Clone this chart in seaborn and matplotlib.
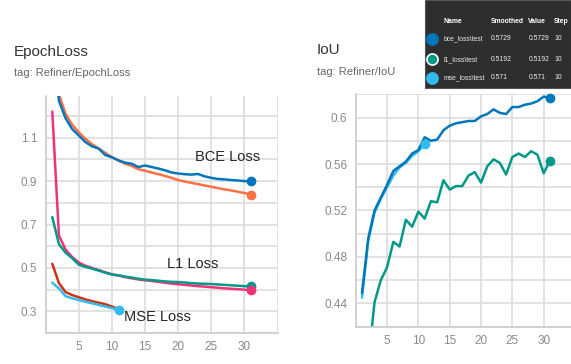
import matplotlib
matplotlib.use("Agg")
import matplotlib.pyplot as plt
import seaborn as sns
import pandas as pd
from matplotlib.patches import Rectangle

# data
epochs = list(range(1, 32))
mse_epochs = list(range(1, 12))

bce_train = [1.65, 1.30, 1.21, 1.16, 1.125, 1.095, 1.07, 1.05, 1.03, 1.01, 0.995,
             0.98, 0.97, 0.955, 0.948, 0.94, 0.932, 0.924, 0.915, 0.905, 0.898,
             0.892, 0.886, 0.88, 0.874, 0.868, 0.862, 0.857, 0.851, 0.845, 0.838]
bce_test = [1.60, 1.27, 1.19, 1.14, 1.11, 1.08, 1.06, 1.05, 1.02, 1.01, 0.995,
            0.985, 0.98, 0.965, 0.972, 0.965, 0.958, 0.95, 0.94, 0.935, 0.932,
            0.93, 0.933, 0.922, 0.915, 0.91, 0.908, 0.905, 0.903, 0.9, 0.9]
l1_train = [1.22, 0.65, 0.585, 0.55, 0.525, 0.51, 0.50, 0.49, 0.48, 0.47, 0.465,
            0.458, 0.452, 0.447, 0.443, 0.44, 0.436, 0.432, 0.428, 0.425, 0.422,
            0.419, 0.416, 0.414, 0.411, 0.409, 0.406, 0.404, 0.402, 0.4, 0.397]
l1_test = [0.734, 0.61, 0.57, 0.545, 0.515, 0.505, 0.497, 0.488, 0.478, 0.47, 0.466,
           0.46, 0.456, 0.45, 0.446, 0.444, 0.441, 0.438, 0.436, 0.435, 0.433,
           0.43, 0.428, 0.427, 0.426, 0.424, 0.422, 0.42, 0.418, 0.416, 0.415]
mse_train = [0.519, 0.43, 0.389, 0.375, 0.365, 0.355, 0.347, 0.34, 0.333, 0.322, 0.311]
mse_test = [0.432, 0.405, 0.37, 0.36, 0.352, 0.344, 0.337, 0.33, 0.322, 0.315, 0.308]

iou_bce = [0.449, 0.496, 0.520, 0.531, 0.542, 0.554, 0.558, 0.562, 0.569, 0.572, 0.583,
           0.580, 0.581, 0.589, 0.593, 0.595, 0.596, 0.597, 0.597, 0.601, 0.603,
           0.607, 0.604, 0.603, 0.609, 0.609, 0.611, 0.612, 0.614, 0.618, 0.617]
iou_l1 = [0.34, 0.39, 0.441, 0.460, 0.471, 0.493, 0.489, 0.512, 0.506, 0.519, 0.513,
          0.528, 0.527, 0.546, 0.538, 0.541, 0.541, 0.550, 0.553, 0.544, 0.558,
          0.564, 0.561, 0.551, 0.566, 0.569, 0.566, 0.571, 0.568, 0.552, 0.563]
iou_mse = [0.445, 0.494, 0.518, 0.530, 0.540, 0.550, 0.557, 0.561, 0.567, 0.571, 0.577]

legend_rows = [("bce_loss\\test", "0.5729", "0.5729", "10"),
               ("l1_loss\\test", "0.5192", "0.5192", "10"),
               ("mse_loss\\test", "0.571", "0.571", "10")]

BLUE, ORANGE, PINK, TEAL, RED, CYAN = "#0077bb", "#ff7043", "#ee3377", "#009988", "#cc3311", "#33bbee"

sns.set_style("white")
plt.rcParams["font.family"] = ["Liberation Sans", "DejaVu Sans"]


def long_df(series):
    rows = []
    for name, xs, ys in series:
        for x, y in zip(xs, ys):
            rows.append({"run": name, "step": x, "value": y})
    return pd.DataFrame(rows)


loss_df = long_df([("bce_train", epochs, bce_train), ("bce_test", epochs, bce_test),
                   ("l1_train", epochs, l1_train), ("l1_test", epochs, l1_test),
                   ("mse_train", mse_epochs, mse_train), ("mse_test", mse_epochs, mse_test)])
loss_pal = {"bce_train": ORANGE, "bce_test": BLUE, "l1_train": PINK,
            "l1_test": TEAL, "mse_train": RED, "mse_test": CYAN}

iou_df = long_df([("mse", mse_epochs, iou_mse), ("bce", epochs, iou_bce), ("l1", epochs, iou_l1)])
iou_pal = {"bce": BLUE, "l1": TEAL, "mse": CYAN}

fig = plt.figure(figsize=(5.71, 3.64), dpi=100)
ax1 = fig.add_axes([0.080, 0.085, 0.406, 0.650])
ax2 = fig.add_axes([0.623, 0.1025, 0.384, 0.6385])


def style_axes(ax, ylim, major, minor):
    ax.set_xlim(0, 35)
    ax.set_ylim(*ylim)
    ax.set_xticks(range(0, 36, 5))
    ax.set_xticklabels([""] + [str(v) for v in range(5, 31, 5)] + [""])
    ax.set_yticks(major)
    ax.set_yticks(minor, minor=True)
    ax.grid(True, which="both", color="#dddddd", lw=1.2)
    ax.set_axisbelow(True)
    ax.tick_params(which="both", direction="out", length=3, color="#cccccc",
                   labelcolor="#8a8a8a", labelsize=8.5, pad=3)
    for s in ["top", "right"]:
        ax.spines[s].set_visible(False)
    for s in ["left", "bottom"]:
        ax.spines[s].set_color("#cccccc")
        ax.spines[s].set_linewidth(1.2)
    ax.set_xlabel("")
    ax.set_ylabel("")


sns.lineplot(data=loss_df, x="step", y="value", hue="run", palette=loss_pal,
             lw=1.8, legend=False, ax=ax1)
for name, grp in loss_df.groupby("run"):
    if name == "mse_train":
        continue  # hidden under the mse test dot in the screenshot
    last = grp.iloc[-1]
    ax1.plot(last["step"], last["value"], "o", color=loss_pal[name], ms=6, clip_on=False)
style_axes(ax1, (0.2, 1.29), [0.3, 0.5, 0.7, 0.9, 1.1], [0.2, 0.4, 0.6, 0.8, 1.0, 1.2])
ax1.set_yticklabels(["0.3", "0.5", "0.7", "0.9", "1.1"])
ax1.text(27.5, 1.011, "BCE Loss", fontsize=10.5, ha="center", va="center")
ax1.text(22.2, 0.519, "L1 Loss", fontsize=10.5, ha="center", va="center")
ax1.text(16.9, 0.276, "MSE Loss", fontsize=10.5, ha="center", va="center")

sns.lineplot(data=iou_df, x="step", y="value", hue="run", palette=iou_pal,
             lw=1.8, legend=False, ax=ax2)
for name, grp in iou_df.groupby("run"):
    last = grp.iloc[-1]
    ax2.plot(last["step"], last["value"], "o", color=iou_pal[name], ms=6, clip_on=False)
style_axes(ax2, (0.42, 0.62), [0.44, 0.48, 0.52, 0.56, 0.6], [0.42, 0.46, 0.5, 0.54, 0.58, 0.62])
ax2.set_yticklabels(["0.44", "0.48", "0.52", "0.56", "0.6"])

# panel titles
fig.text(0.0245, 0.857, "EpochLoss", fontsize=11, color="#333333", va="center")
fig.text(0.0245, 0.800, "tag: Refiner/EpochLoss", fontsize=8, color="#666666", va="center")
fig.text(0.5546, 0.863, "IoU", fontsize=11, color="#333333", va="center")
fig.text(0.5546, 0.802, "tag: Refiner/IoU", fontsize=8, color="#666666", va="center")

# tooltip box
fig.patches.append(Rectangle((425 / 571, 1 - 87.5 / 364), 146 / 571, 87.5 / 364,
                             transform=fig.transFigure, facecolor="#2e2e2e",
                             edgecolor="#555555", lw=0.8, zorder=5))
cols = [444, 490.7, 528.3, 554.3]
for x, h in zip(cols, ["Name", "Smoothed", "Value", "Step"]):
    fig.text(x / 571, 1 - 21.7 / 364, h, fontsize=4.9, color="white",
             fontweight="bold", va="center", zorder=6)
row_y = [39, 59.3, 77.7]
for (name, sm, val, step), y, c in zip(legend_rows, row_y, [BLUE, TEAL, CYAN]):
    ring = "white" if c == TEAL else c
    fig.lines.append(plt.Line2D([431.7 / 571], [1 - y / 364], marker="o", ms=8,
                                color=c, mec=ring, mew=1.2, transform=fig.transFigure,
                                zorder=6))
    for x, t in zip(cols, [name, sm, val, step]):
        fig.text(x / 571, 1 - y / 364, t, fontsize=4.9, color="#eeeeee", va="center", zorder=6)

fig.savefig("out.png", dpi=100)
